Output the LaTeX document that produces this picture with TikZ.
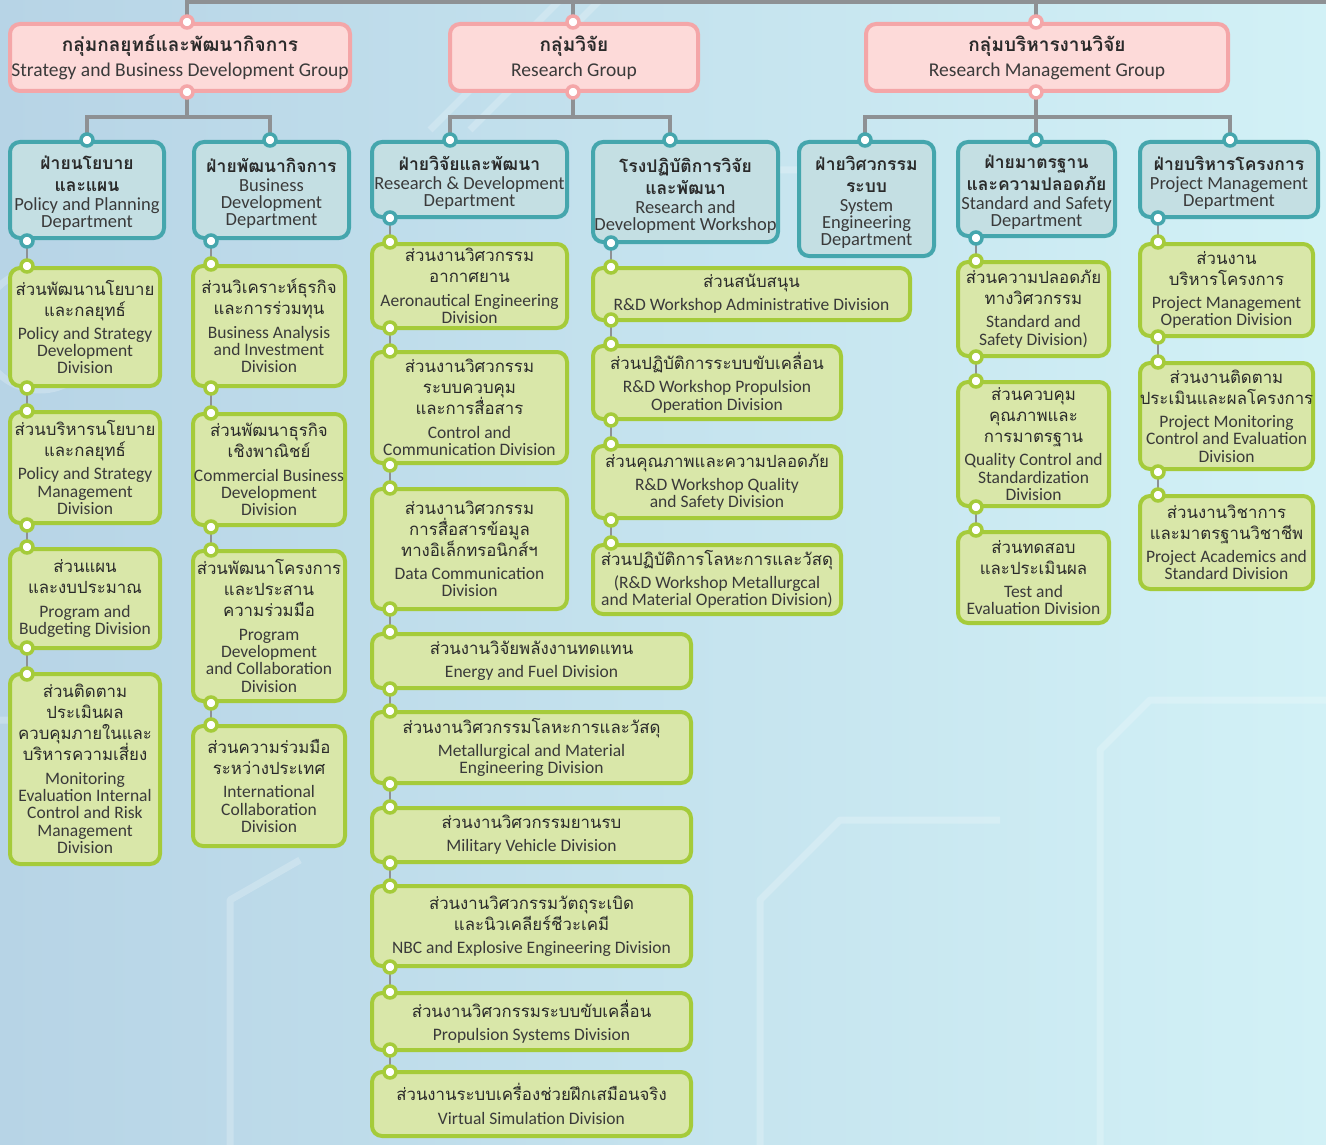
\documentclass[tikz,border=0pt]{standalone}
\usepackage{fontspec}
\setmainfont{Carlito}
\newfontfamily\thaifont[Script=Thai]{Loma}
\newfontfamily\enfont{Carlito}
\pgfdeclarelayer{back}\pgfdeclarelayer{lines}\pgfsetlayers{back,lines,main}
\definecolor{grpF}{HTML}{FDDAD9}
\definecolor{grpB}{HTML}{F4A6A8}
\definecolor{depF}{HTML}{C4DFE3}
\definecolor{depB}{HTML}{45A6AD}
\definecolor{divF}{HTML}{D9E7A9}
\definecolor{divB}{HTML}{A5CB3A}
\definecolor{lnC}{HTML}{8E9194}
\definecolor{txt}{HTML}{2A2A2A}
\definecolor{entxt}{HTML}{3A3A3A}
\definecolor{bgL}{HTML}{B7D4E6}
\definecolor{bgR}{HTML}{D2F1F6}
\tikzset{
 boxbase/.style={line width=4pt, rounded corners=10pt, inner sep=0pt, text=txt},
 grp/.style={boxbase, draw=grpB, fill=grpF},
 dep/.style={boxbase, draw=depB, fill=depF},
 dv/.style={boxbase, draw=divB, fill=divF},
 knobbase/.style={circle, fill=white, line width=3.5pt, minimum size=12pt, inner sep=0pt},
 gk/.style={knobbase, draw=grpB},
 dk/.style={knobbase, draw=depB},
 vk/.style={knobbase, draw=divB},
 trunk/.style={draw=lnC, line width=4pt},
 chain/.style={draw=lnC, line width=2.5pt},
 trace/.style={draw=white, opacity=0.22, line width=7pt, line join=round},
}
\newcommand\mybox[7]{\pgfmathsetmacro\bw{#5-#3-4}\pgfmathsetmacro\bh{#6-#4-4}%
 \node[#1, minimum width=\bw pt, minimum height=\bh pt] (#2) at ({(#3+#5)/2},{(#4+#6)/2}) {\vbox{\lineskiplimit=-1000pt #7}};}
\newcommand\knob[4]{\node[#1] (#2) at (#3,#4) {};}
\newcommand\ctr[1]{\hbox to 0pt{\hss#1\hss}}
\newcommand\GT{\color{txt}\thaifont\bfseries\fontsize{19}{24}\selectfont}
\newcommand\GE{\color{entxt}\enfont\mdseries\fontsize{19.5}{25}\selectfont}
\newcommand\DT{\vskip7pt\color{txt}\thaifont\bfseries\fontsize{17.5}{22}\selectfont}
\newcommand\DE{\color{entxt}\enfont\mdseries\fontsize{18.5}{17}\selectfont}
\newcommand\VT{\color{txt}\thaifont\mdseries\fontsize{16.8}{21}\selectfont}
\newcommand\VE{\color{entxt}\enfont\mdseries\fontsize{17.5}{17.3}\selectfont}
\begin{document}
\begin{tikzpicture}[x=1pt,y=-1pt]
\useasboundingbox (0,0) rectangle (1326,1145);
\begin{pgfonlayer}{back}
\fill[left color=bgL, right color=bgR] (0,0) rectangle (1326,1145);
\draw[trace] (430,130) -- (560,0);
\draw[trace] (470,130) -- (600,0);
\draw[trace] (700,230) -- (760,170) -- (900,170);
\draw[trace] (0,720) -- (120,720) -- (160,680);
\draw[trace] (230,1145) -- (230,900) -- (300,860);
\draw[trace] (760,1145) -- (760,900) -- (840,820) -- (1000,820);
\draw[trace] (1326,700) -- (1150,700) -- (1100,750) -- (1100,1145);
\draw[trace] (40,330) circle (60);
\end{pgfonlayer}

% groups
\mybox{grp}{G1}{8}{22}{352}{93}{\GT\ctr{กลุ่มกลยุทธ์และพัฒนากิจการ}\GE\ctr{Strategy and Business Development Group}}
\mybox{grp}{G2}{448}{22}{700}{93}{\GT\ctr{กลุ่มวิจัย}\GE\ctr{Research Group}}
\mybox{grp}{G3}{864}{22}{1230}{93}{\GT\ctr{กลุ่มบริหารงานวิจัย}\GE\ctr{Research Management Group}}

% departments
\mybox{dep}{D1}{8}{140}{166}{240}{\DT\ctr{ฝ่ายนโยบาย}\ctr{และแผน}\DE\vskip2pt\ctr{Policy and Planning}\ctr{Department}}
\mybox{dep}{D2}{192}{140}{351}{240}{\DT\ctr{ฝ่ายพัฒนากิจการ}\DE\vskip2pt\ctr{Business}\ctr{Development}\ctr{Department}}
\mybox{dep}{D3}{370}{140}{569}{219}{\DT\ctr{ฝ่ายวิจัยและพัฒนา}\DE\vskip2pt\ctr{Research \& Development}\ctr{Department}}
\mybox{dep}{D4}{591}{140}{780}{244}{\DT\ctr{โรงปฏิบัติการวิจัย}\ctr{และพัฒนา}\DE\vskip2pt\ctr{Research and}\ctr{Development Workshop}}
\mybox{dep}{D5}{797}{140}{936}{258}{\DT\ctr{ฝ่ายวิศวกรรม}\ctr{ระบบ}\DE\vskip2pt\ctr{System}\ctr{Engineering}\ctr{Department}}
\mybox{dep}{D6}{956}{140}{1117}{238}{\DT\ctr{ฝ่ายมาตรฐาน}\ctr{และความปลอดภัย}\DE\vskip2pt\ctr{Standard and Safety}\ctr{Department}}
\mybox{dep}{D7}{1138}{140}{1320}{219}{\DT\ctr{ฝ่ายบริหารโครงการ}\DE\vskip2pt\ctr{Project Management}\ctr{Department}}

% divisions column A
\mybox{dv}{A1}{8}{266}{162}{388}{\VT\ctr{ส่วนพัฒนานโยบาย}\ctr{และกลยุทธ์}\VE\vskip6pt\ctr{Policy and Strategy}\ctr{Development}\ctr{Division}}
\mybox{dv}{A2}{8}{410}{162}{525}{\VT\ctr{ส่วนบริหารนโยบาย}\ctr{และกลยุทธ์}\VE\vskip6pt\ctr{Policy and Strategy}\ctr{Management}\ctr{Division}}
\mybox{dv}{A3}{8}{547}{162}{650}{\VT\ctr{ส่วนแผน}\ctr{และงบประมาณ}\VE\vskip6pt\ctr{Program and}\ctr{Budgeting Division}}
\mybox{dv}{A4}{8}{672}{162}{866}{\VT\ctr{ส่วนติดตาม}\ctr{ประเมินผล}\ctr{ควบคุมภายในและ}\ctr{บริหารความเสี่ยง}\VE\vskip6pt\ctr{Monitoring}\ctr{Evaluation Internal}\ctr{Control and Risk}\ctr{Management}\ctr{Division}}
% column B
\mybox{dv}{B1}{191}{264}{347}{388}{\VT\ctr{ส่วนวิเคราะห์ธุรกิจ}\ctr{และการร่วมทุน}\VE\vskip6pt\ctr{Business Analysis}\ctr{and Investment}\ctr{Division}}
\mybox{dv}{B2}{191}{412}{347}{527}{\VT\ctr{ส่วนพัฒนาธุรกิจ}\ctr{เชิงพาณิชย์}\VE\vskip6pt\ctr{Commercial Business}\ctr{Development}\ctr{Division}}
\mybox{dv}{B3}{191}{549}{347}{703}{\VT\ctr{ส่วนพัฒนาโครงการ}\ctr{และประสาน}\ctr{ความร่วมมือ}\VE\vskip6pt\ctr{Program}\ctr{Development}\ctr{and Collaboration}\ctr{Division}}
\mybox{dv}{B4}{191}{724}{347}{848}{\VT\ctr{ส่วนความร่วมมือ}\ctr{ระหว่างประเทศ}\VE\vskip6pt\ctr{International}\ctr{Collaboration}\ctr{Division}}
% column C
\mybox{dv}{C1}{370}{242}{569}{330}{\VT\ctr{ส่วนงานวิศวกรรม}\ctr{อากาศยาน}\VE\vskip6pt\ctr{Aeronautical Engineering}\ctr{Division}}
\mybox{dv}{C2}{370}{350}{569}{465}{\VT\ctr{ส่วนงานวิศวกรรม}\ctr{ระบบควบคุม}\ctr{และการสื่อสาร}\VE\vskip6pt\ctr{Control and}\ctr{Communication Division}}
\mybox{dv}{C3}{370}{487}{569}{611}{\VT\ctr{ส่วนงานวิศวกรรม}\ctr{การสื่อสารข้อมูล}\ctr{ทางอิเล็กทรอนิกส์ฯ}\VE\vskip6pt\ctr{Data Communication}\ctr{Division}}
\mybox{dv}{C4}{370}{632}{693}{690}{\VT\ctr{ส่วนงานวิจัยพลังงานทดแทน}\VE\vskip6pt\ctr{Energy and Fuel Division}}
\mybox{dv}{C5}{370}{710}{693}{785}{\VT\ctr{ส่วนงานวิศวกรรมโลหะการและวัสดุ}\VE\vskip6pt\ctr{Metallurgical and Material}\ctr{Engineering Division}}
\mybox{dv}{C6}{370}{806}{693}{864}{\VT\ctr{ส่วนงานวิศวกรรมยานรบ}\VE\vskip6pt\ctr{Military Vehicle Division}}
\mybox{dv}{C7}{370}{884}{693}{968}{\VT\ctr{ส่วนงานวิศวกรรมวัตถุระเบิด}\ctr{และนิวเคลียร์ชีวะเคมี}\VE\vskip6pt\ctr{NBC and Explosive Engineering Division}}
\mybox{dv}{C8}{370}{991}{693}{1052}{\VT\ctr{ส่วนงานวิศวกรรมระบบขับเคลื่อน}\VE\vskip6pt\ctr{Propulsion Systems Division}}
\mybox{dv}{C9}{370}{1070}{693}{1138}{\VT\ctr{ส่วนงานระบบเครื่องช่วยฝึกเสมือนจริง}\VE\vskip6pt\ctr{Virtual Simulation Division}}
% column E
\mybox{dv}{E1}{591}{266}{912}{322}{\VT\ctr{ส่วนสนับสนุน}\VE\vskip6pt\ctr{R\&D Workshop Administrative Division}}
\mybox{dv}{E2}{591}{344}{843}{421}{\VT\ctr{ส่วนปฏิบัติการระบบขับเคลื่อน}\VE\vskip6pt\ctr{R\&D Workshop Propulsion}\ctr{Operation Division}}
\mybox{dv}{E3}{591}{444}{843}{520}{\VT\ctr{ส่วนคุณภาพและความปลอดภัย}\VE\vskip6pt\ctr{R\&D Workshop Quality}\ctr{and Safety Division}}
\mybox{dv}{E4}{591}{543}{843}{616}{\VT\ctr{ส่วนปฏิบัติการโลหะการและวัสดุ}\VE\vskip6pt\ctr{(R\&D Workshop Metallurgcal}\ctr{and Material Operation Division)}}
% column F
\mybox{dv}{F1}{956}{260}{1111}{358}{\VT\ctr{ส่วนความปลอดภัย}\ctr{ทางวิศวกรรม}\VE\vskip6pt\ctr{Standard and}\ctr{Safety Division)}}
\mybox{dv}{F2}{956}{380}{1111}{508}{\VT\ctr{ส่วนควบคุม}\ctr{คุณภาพและ}\ctr{การมาตรฐาน}\VE\vskip6pt\ctr{Quality Control and}\ctr{Standardization}\ctr{Division}}
\mybox{dv}{F3}{956}{530}{1111}{625}{\VT\ctr{ส่วนทดสอบ}\ctr{และประเมินผล}\VE\vskip6pt\ctr{Test and}\ctr{Evaluation Division}}
% column H
\mybox{dv}{H1}{1138}{242}{1315}{338}{\VT\ctr{ส่วนงาน}\ctr{บริหารโครงการ}\VE\vskip6pt\ctr{Project Management}\ctr{Operation Division}}
\mybox{dv}{H2}{1138}{361}{1315}{471}{\VT\ctr{ส่วนงานติดตาม}\ctr{ประเมินและผลโครงการ}\VE\vskip6pt\ctr{Project Monitoring}\ctr{Control and Evaluation}\ctr{Division}}
\mybox{dv}{H3}{1138}{494}{1315}{591}{\VT\ctr{ส่วนงานวิชาการ}\ctr{และมาตรฐานวิชาชีพ}\VE\vskip6pt\ctr{Project Academics and}\ctr{Standard Division}}

% knobs: groups
\knob{gk}{G1-t}{187}{22}\knob{gk}{G1-b}{187}{92}
\knob{gk}{G2-t}{573}{22}\knob{gk}{G2-b}{573}{92}
\knob{gk}{G3-t}{1036}{22}\knob{gk}{G3-b}{1036}{92}
% knobs: departments
\knob{dk}{D1-t}{87}{140}\knob{dk}{D1-b}{27}{241}
\knob{dk}{D2-t}{270}{140}\knob{dk}{D2-b}{211}{241}
\knob{dk}{D3-t}{450}{140}\knob{dk}{D3-b}{390}{218}
\knob{dk}{D4-t}{670}{140}\knob{dk}{D4-b}{611}{243}
\knob{dk}{D5-t}{865}{140}
\knob{dk}{D6-t}{1036}{140}\knob{dk}{D6-b}{976}{238}
\knob{dk}{D7-t}{1230}{140}\knob{dk}{D7-b}{1158}{218}
% knobs: divisions
\knob{vk}{A1-t}{27}{266}\knob{vk}{A1-b}{27}{388}
\knob{vk}{A2-t}{27}{411}\knob{vk}{A2-b}{27}{525}
\knob{vk}{A3-t}{27}{547}\knob{vk}{A3-b}{27}{648}
\knob{vk}{A4-t}{27}{674}
\knob{vk}{B1-t}{211}{264}\knob{vk}{B1-b}{211}{388}
\knob{vk}{B2-t}{211}{413}\knob{vk}{B2-b}{211}{527}
\knob{vk}{B3-t}{211}{550}\knob{vk}{B3-b}{211}{703}
\knob{vk}{B4-t}{211}{725}
\knob{vk}{C1-t}{390}{242}\knob{vk}{C1-b}{390}{328}
\knob{vk}{C2-t}{390}{351}\knob{vk}{C2-b}{390}{465}
\knob{vk}{C3-t}{390}{488}\knob{vk}{C3-b}{390}{609}
\knob{vk}{C4-t}{390}{632}\knob{vk}{C4-b}{390}{689}
\knob{vk}{C5-t}{390}{711}\knob{vk}{C5-b}{390}{784}
\knob{vk}{C6-t}{390}{807}\knob{vk}{C6-b}{390}{863}
\knob{vk}{C7-t}{390}{886}\knob{vk}{C7-b}{390}{967}
\knob{vk}{C8-t}{390}{992}\knob{vk}{C8-b}{390}{1050}
\knob{vk}{C9-t}{390}{1072}
\knob{vk}{E1-t}{611}{267}\knob{vk}{E1-b}{611}{320}
\knob{vk}{E2-t}{611}{344}\knob{vk}{E2-b}{611}{420}
\knob{vk}{E3-t}{611}{444}\knob{vk}{E3-b}{611}{520}
\knob{vk}{E4-t}{611}{543}
\knob{vk}{F1-t}{976}{261}\knob{vk}{F1-b}{976}{357}
\knob{vk}{F2-t}{976}{381}\knob{vk}{F2-b}{976}{507}
\knob{vk}{F3-t}{976}{530}
\knob{vk}{H1-t}{1158}{242}\knob{vk}{H1-b}{1158}{337}
\knob{vk}{H2-t}{1158}{362}\knob{vk}{H2-b}{1158}{472}
\knob{vk}{H3-t}{1158}{495}

\begin{pgfonlayer}{lines}
\coordinate (TL) at (187,2);
\coordinate (TR) at (1326,2);
\draw[trunk] (TR) -- (TL) -- (G1-t.center);
\draw[trunk] (G2-t.center) -- (G2-t |- TL);
\draw[trunk] (G3-t.center) -- (G3-t |- TL);
\coordinate (J1) at (187,117);
\coordinate (J2) at (573,117);
\coordinate (J3) at (1036,117);
\draw[trunk] (G1-b.center) -- (J1);
\draw[trunk] (D1-t.center) |- (J1) -| (D2-t.center);
\draw[trunk] (G2-b.center) -- (J2);
\draw[trunk] (D3-t.center) |- (J2) -| (D4-t.center);
\draw[trunk] (G3-b.center) -- (J3) -- (D6-t.center);
\draw[trunk] (D5-t.center) |- (J3) -| (D7-t.center);
\foreach \a/\b in {D1-b/A1-t,A1-b/A2-t,A2-b/A3-t,A3-b/A4-t,
  D2-b/B1-t,B1-b/B2-t,B2-b/B3-t,B3-b/B4-t,
  D3-b/C1-t,C1-b/C2-t,C2-b/C3-t,C3-b/C4-t,C4-b/C5-t,C5-b/C6-t,C6-b/C7-t,C7-b/C8-t,C8-b/C9-t,
  D4-b/E1-t,E1-b/E2-t,E2-b/E3-t,E3-b/E4-t,
  D6-b/F1-t,F1-b/F2-t,F2-b/F3-t,
  D7-b/H1-t,H1-b/H2-t,H2-b/H3-t}
  \draw[chain] (\a.center) -- (\b.center);
\end{pgfonlayer}
\end{tikzpicture}
\end{document}
